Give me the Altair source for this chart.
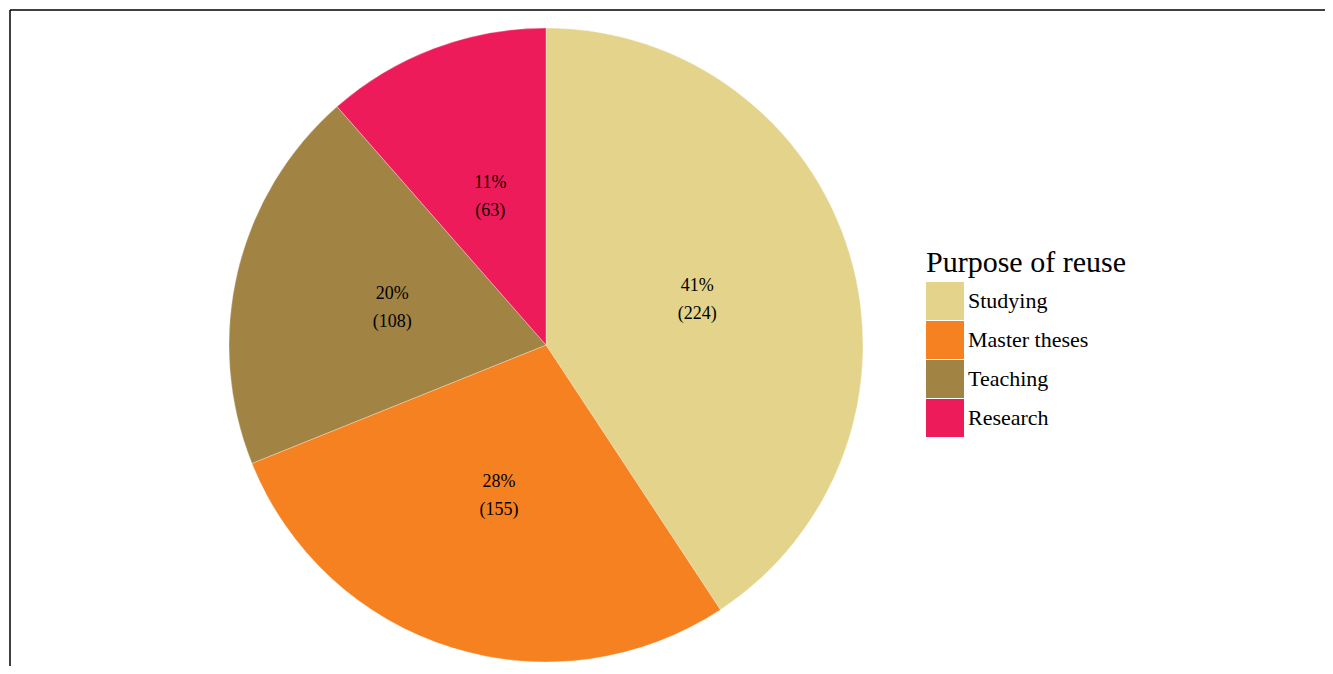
import altair as alt
import pandas as pd

categories = ["Studying", "Master theses", "Teaching", "Research"]
counts = [224, 155, 108, 63]
percents = ["41%", "28%", "20%", "11%"]
colors = ["#E3D38B", "#F68120", "#A18344", "#EE1B5B"]

df = pd.DataFrame({
    "cat": categories,
    "count": counts,
    "order": list(range(len(categories))),
    "label": [f"{p}\n({c})" for p, c in zip(percents, counts)],
})

W, H = 1315, 656
CX, CY = 536, 335
R = 317
FONT = "Liberation Serif"

base = alt.Chart(df).encode(
    theta=alt.Theta("count:Q", stack=True),
    order=alt.Order("order:Q", sort="ascending"),
)

pie = base.mark_arc(stroke="white", strokeWidth=0.3).encode(
    x=alt.value(CX), y=alt.value(CY), radius=alt.value(R),
    color=alt.Color(
        "cat:N",
        scale=alt.Scale(domain=categories, range=colors),
        sort=categories,
        legend=alt.Legend(
            title="Purpose of reuse",
            orient="none", legendX=916, legendY=238,
            titleFont=FONT, titleFontSize=30, titleFontWeight="normal",
            titleColor="black", titlePadding=4, titleLimit=1000,
            labelFont=FONT, labelFontSize=22, labelColor="black",
            labelLimit=1000,
            labelOffset=4, symbolType="square", symbolSize=1444,
            symbolStrokeWidth=0, rowPadding=1, symbolOpacity=1,
        ),
    ),
)

text = base.mark_text(font=FONT, fontSize=18, lineBreak="\n", lineHeight=28,
                      color="black", baseline="middle", dy=-14).encode(
    x=alt.value(CX), y=alt.value(CY), radius=alt.value(158),
    text="label:N",
)

border_df = pd.DataFrame({"a": [0]})
top = alt.Chart(border_df).mark_rule(color="black", strokeWidth=1.5).encode(
    x=alt.value(0), x2=alt.value(W), y=alt.value(0))
left = alt.Chart(border_df).mark_rule(color="black", strokeWidth=1.5).encode(
    x=alt.value(0), y=alt.value(0), y2=alt.value(H))

chart = alt.layer(top, left, pie, text).properties(
    width=W, height=H,
    autosize=alt.AutoSizeParams(type="none"),
    padding={"left": 2, "top": 2, "right": 0, "bottom": 0},
).configure_view(stroke=None)

chart.save("out.html", embed_options={"renderer": "svg", "actions": False})
